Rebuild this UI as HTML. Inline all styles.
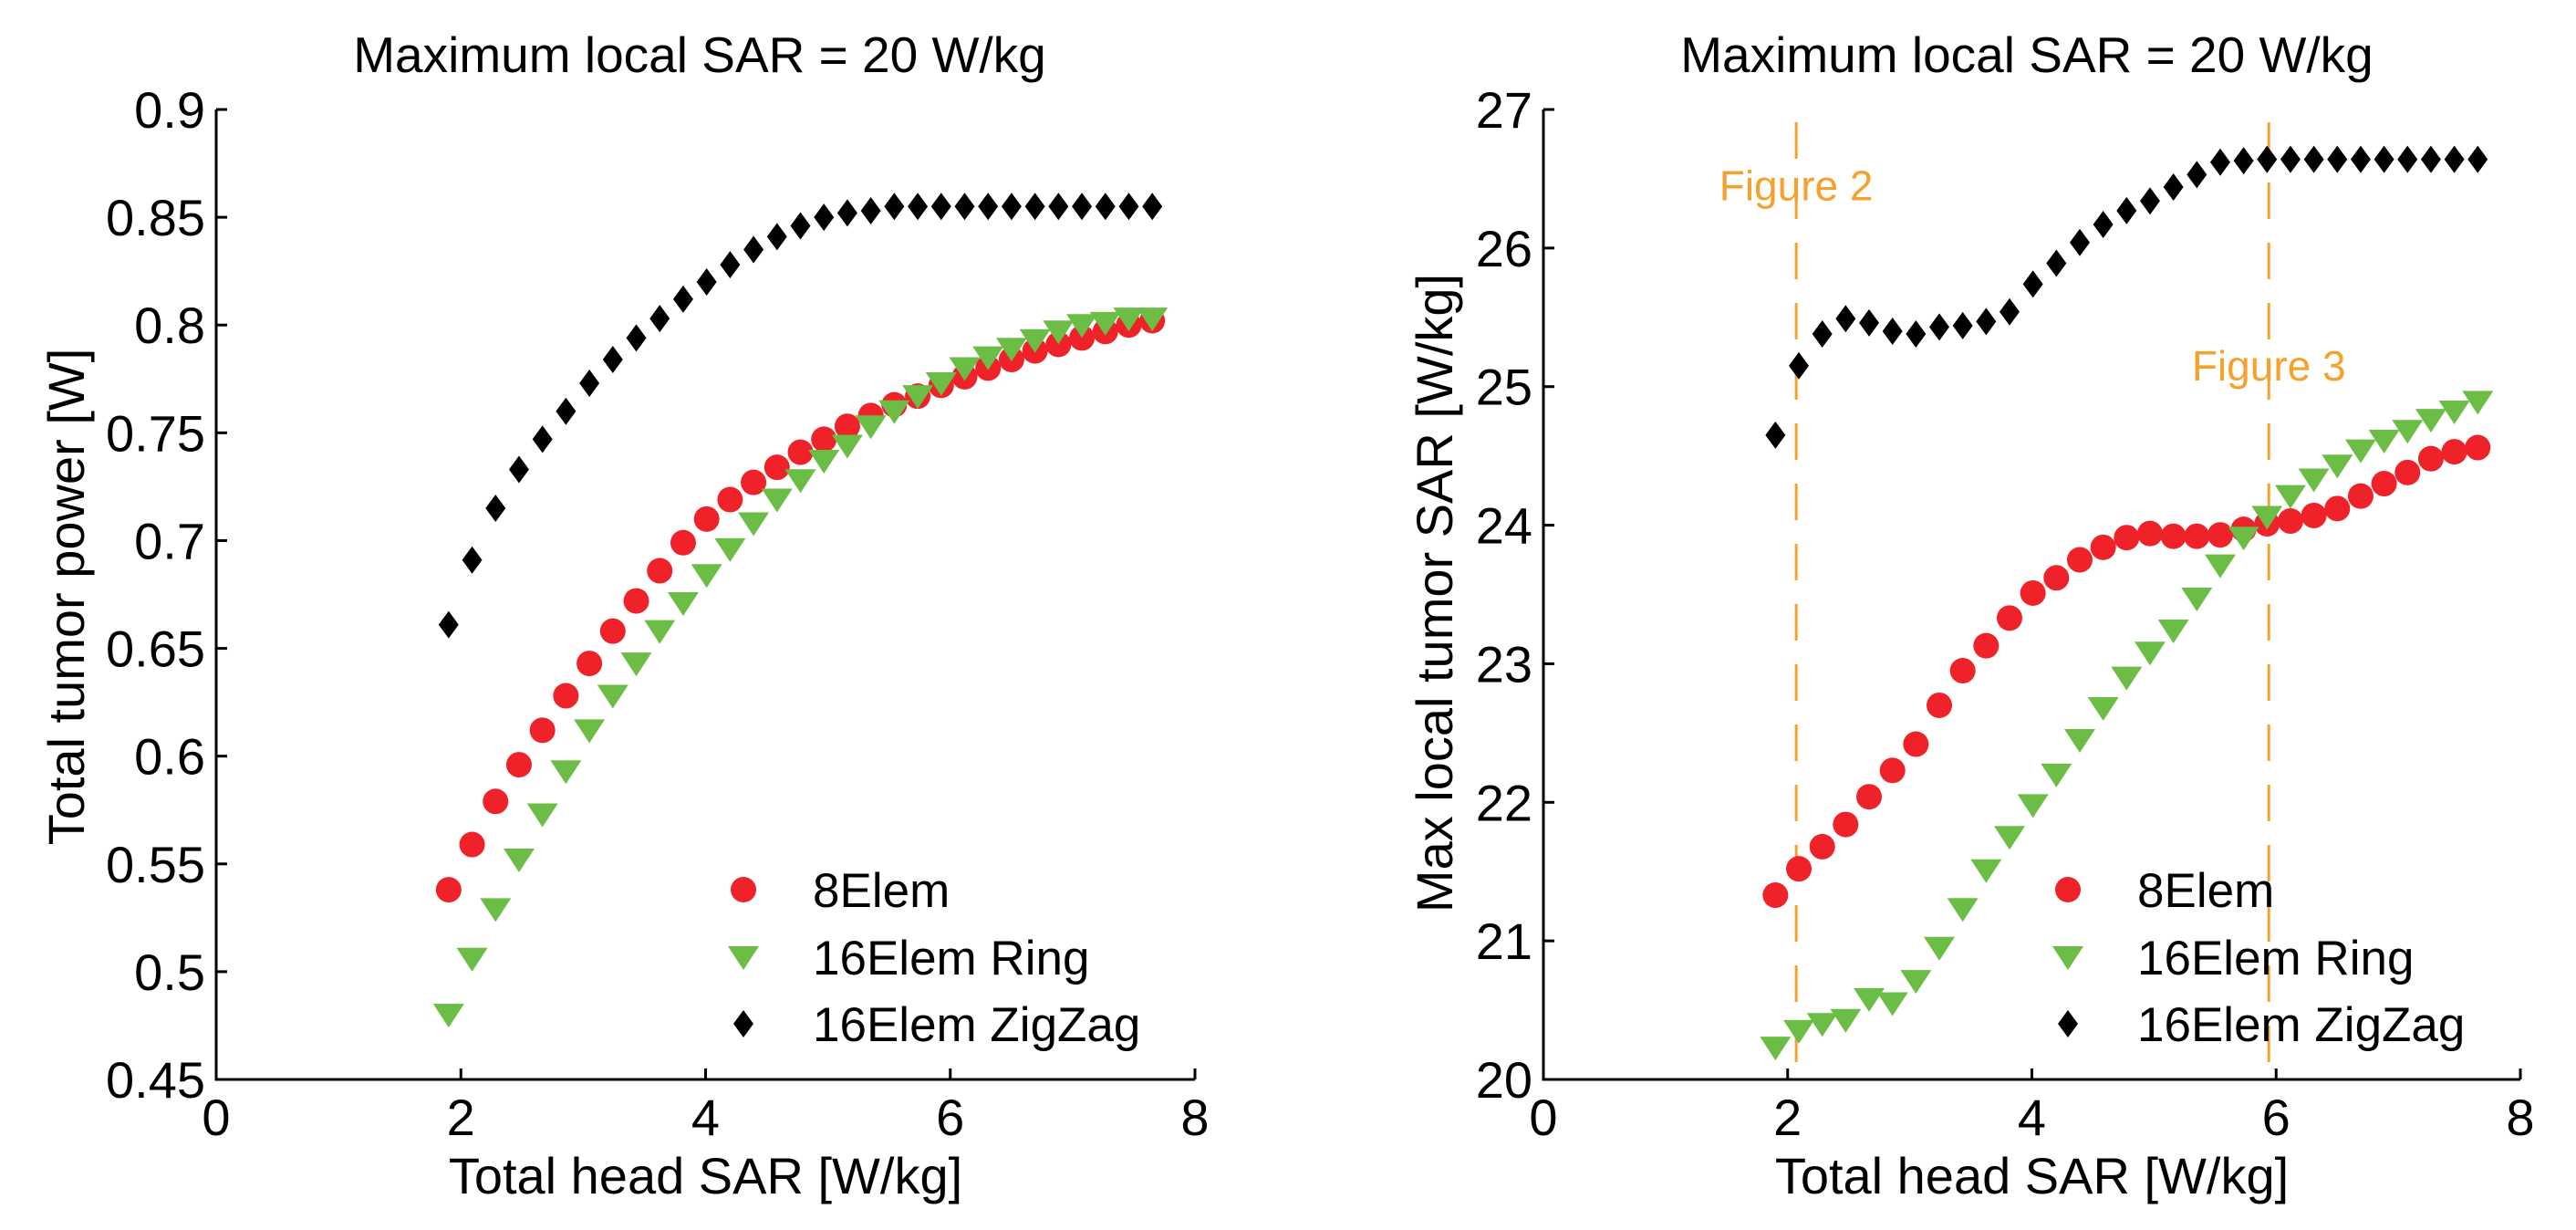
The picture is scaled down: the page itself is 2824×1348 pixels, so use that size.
<!DOCTYPE html>
<html><head><meta charset="utf-8"><style>
html,body{margin:0;padding:0;background:#fff;}
svg{display:block;font-family:"Liberation Sans",Arial,sans-serif;}
</style></head><body>
<svg id="c" width="2824" height="1348" viewBox="0 0 2824 1348"></svg>
<script>
const xStart = 1.9, xStep = 0.1917;
const leftRed = [0.538,0.559,0.579,0.596,0.612,0.628,0.643,0.658,0.672,0.686,0.699,0.710,0.719,0.727,0.734,0.741,0.747,0.753,0.758,0.763,0.767,0.772,0.776,0.780,0.784,0.788,0.791,0.794,0.797,0.800,0.802];
const leftGreen = [0.480,0.506,0.529,0.552,0.573,0.593,0.612,0.628,0.643,0.658,0.671,0.684,0.696,0.708,0.719,0.728,0.737,0.744,0.753,0.760,0.767,0.773,0.780,0.785,0.789,0.793,0.797,0.800,0.801,0.803,0.803];
const leftBlack = [0.661,0.691,0.715,0.733,0.747,0.760,0.773,0.784,0.794,0.803,0.812,0.820,0.828,0.835,0.841,0.846,0.850,0.852,0.853,0.855,0.855,0.855,0.855,0.855,0.855,0.855,0.855,0.855,0.855,0.855,0.855];
const rightRed = [21.33,21.52,21.68,21.84,22.04,22.23,22.42,22.70,22.95,23.13,23.33,23.51,23.62,23.75,23.84,23.91,23.94,23.92,23.92,23.93,23.97,24.01,24.03,24.07,24.12,24.21,24.30,24.38,24.48,24.53,24.56];
const rightGreen = [20.23,20.35,20.40,20.43,20.58,20.55,20.71,20.95,21.23,21.51,21.75,21.98,22.20,22.45,22.68,22.90,23.08,23.24,23.47,23.71,23.91,24.06,24.21,24.33,24.43,24.54,24.61,24.68,24.76,24.82,24.89];
const rightBlack = [24.65,25.15,25.38,25.49,25.46,25.40,25.38,25.43,25.44,25.47,25.54,25.74,25.89,26.04,26.17,26.27,26.34,26.44,26.53,26.62,26.63,26.64,26.64,26.64,26.64,26.64,26.64,26.64,26.64,26.64,26.64];
const xTicks = [0,2,4,6,8];
const leftYTicks = ["0.45","0.5","0.55","0.6","0.65","0.7","0.75","0.8","0.85","0.9"];
const rightYTicks = ["20","21","22","23","24","25","26","27"];
const legendLabels = ["8Elem","16Elem Ring","16Elem ZigZag"];
const figureLines = [2.07, 5.94];
const figureLabels = ["Figure 2","Figure 3"];
const figureLabelY = [26.45, 25.15];

const svg = document.getElementById('c');
const NS = 'http://www.w3.org/2000/svg';
function mk(tag, attrs, parent){ const e=document.createElementNS(NS,tag); for(const k in attrs) e.setAttribute(k,attrs[k]); (parent||svg).appendChild(e); return e; }

function marker(g, kind, cx, cy){
  let e;
  if(kind==='red'){ e=mk('circle',{cx:cx,cy:cy,r:14,fill:'#ee2228'},g); }
  else if(kind==='green'){ e=mk('polygon',{points:`${cx-17},${cy-12} ${cx+17},${cy-12} ${cx},${cy+14}`,fill:'#6cbd45'},g); }
  else { e=mk('polygon',{points:`${cx},${cy-15} ${cx+11},${cy} ${cx},${cy+15} ${cx-11},${cy}`,fill:'#000'},g); }
  return e;
}

function panel(opt){
  const g = mk('g',{});
  
  
  const X = v => opt.x0 + (v-0)/8*(opt.x1-opt.x0);
  const Y = v => opt.yb - (v-opt.ymin)/(opt.ymax-opt.ymin)*(opt.yb-opt.yt);
  const ax = mk('path',{d:`M${opt.x0},${opt.yt} V${opt.yb} H${opt.x1}`,stroke:'#000','stroke-width':3,fill:'none'},g);
  
  
  xTicks.forEach(t=>{
    mk('line',{x1:X(t),x2:X(t),y1:opt.yb,y2:opt.yb-12,stroke:'#000','stroke-width':3},g);
    const tx = mk('text',{x:X(t),y:1244,'font-size':56,'text-anchor':'middle'},g);
    tx.textContent=t;
    
    
  });
  opt.yticks.forEach(t=>{
    const v=parseFloat(t);
    mk('line',{x1:opt.x0,x2:opt.x0+12,y1:Y(v),y2:Y(v),stroke:'#000','stroke-width':3},g);
    const ty = mk('text',{x:opt.x0-12,y:Y(v)+20,'font-size':56,'text-anchor':'end'},g);
    ty.textContent=t;
    
    
  });
  if(opt.figs){
    figureLines.forEach((fx,i)=>{
      const l = mk('line',{x1:X(fx),x2:X(fx),y1:134,y2:opt.yb,stroke:'#f6a02e','stroke-width':3,'stroke-dasharray':'40,26'},g);
      
      
      const t = mk('text',{x:X(fx),y:Y(figureLabelY[i])+16,'font-size':46,'text-anchor':'middle',fill:'#f6a02e'},g);
      t.textContent=figureLabels[i];
      
      
    });
  }
  const series=[['red',opt.red],['green',opt.green],['black',opt.black]];
  series.forEach(([k,arr])=>{
    arr.forEach((v,i)=>{
      const m = marker(g,k,X(xStart+i*xStep),Y(v));
      
      
    });
  });
  const ly=[975,1049,1122];
  ['red','green','black'].forEach((k,i)=>{
    const m = marker(g,k,opt.legX,ly[i]);
    
    
    const t = mk('text',{x:opt.legX+76,y:ly[i]+19,'font-size':53},g);
    t.textContent=legendLabels[i];
    
    
  });
  const title = mk('text',{x:opt.tx,y:79,'font-size':55,'text-anchor':'middle'},g);
  title.textContent='Maximum local SAR = 20 W/kg';
  
  
  const xl = mk('text',{x:(opt.x0+opt.x1)/2,y:1308,'font-size':56,'text-anchor':'middle'},g);
  xl.textContent='Total head SAR [W/kg]';
  
  
  const yl = mk('text',{x:0,y:0,'font-size':56,'text-anchor':'middle',transform:`translate(${opt.ylx},${opt.yly}) rotate(-90)`},g);
  yl.textContent=opt.ylabel;
  
  
}

panel({name:'left-chart',x0:237,x1:1310,yt:120,yb:1183,ymin:0.45,ymax:0.9,yticks:leftYTicks,red:leftRed,green:leftGreen,black:leftBlack,legX:815,ylabel:'Total tumor power [W]',ylx:92,yly:654,tx:767,figs:false});
panel({name:'right-chart',x0:1692,x1:2763,yt:120,yb:1183,ymin:20,ymax:27,yticks:rightYTicks,red:rightRed,green:rightGreen,black:rightBlack,legX:2267,ylabel:'Max local tumor SAR [W/kg]',ylx:1592,yly:650,tx:2222,figs:true});
</script>
</body></html>
